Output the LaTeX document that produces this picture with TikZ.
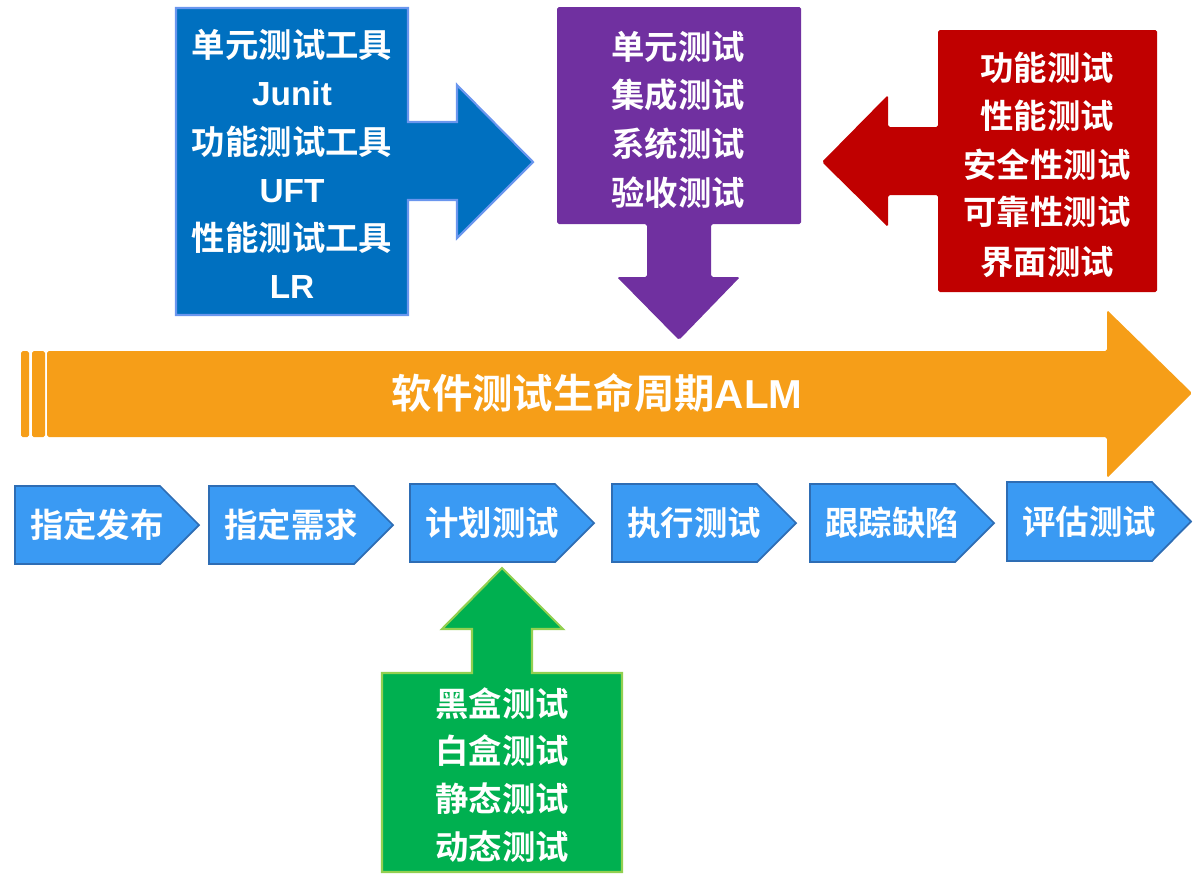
\documentclass[tikz,border=0pt]{standalone}
\usepackage{fontspec}
\setmainfont{Liberation Sans}
\newfontfamily\cjk{Noto Sans CJK SC}[BoldFont={Noto Sans CJK SC Bold}]
\definecolor{orangeA}{HTML}{F69E18}
\definecolor{blueBox}{HTML}{0070C0}
\definecolor{blueEdge}{HTML}{6A96EE}
\definecolor{purpleBox}{HTML}{7030A0}
\definecolor{redBox}{HTML}{C00000}
\definecolor{greenBox}{HTML}{00B050}
\definecolor{greenEdge}{HTML}{92D050}
\definecolor{chevFill}{HTML}{3A9AF3}
\definecolor{chevEdge}{HTML}{2E6DB4}
\tikzset{
  lbl/.style={text=white, inner sep=0pt, anchor=center,
    font=\cjk\bfseries\fontsize{19}{22}\selectfont, text height=16.7pt, text depth=2.3pt},
  lat/.style={lbl, font=\bfseries\fontsize{19}{22}\selectfont},
  ttl/.style={lbl, font=\cjk\bfseries\fontsize{23}{26}\selectfont, text height=20.2pt, text depth=2.8pt},
  chev/.style={fill=chevFill, draw=chevEdge, line width=1pt, line join=miter},
}
\begin{document}
\begin{tikzpicture}[x=0.02cm,y=-0.02cm]
\useasboundingbox (0,0) rectangle (1200,876);

% blue arrow (tools)
\draw[fill=blueBox, draw=blueEdge, line width=1.2pt, line join=miter]
  (176,8) -- (408,8) -- (408,122) -- (457,122) -- (457,85) -- (533,162)
  -- (457,238) -- (457,200) -- (408,200) -- (408,315) -- (176,315) -- cycle;
\node[lbl] (b1) at (292,45) {单元测试工具};
\node[lat] (b2) at (292,93) {Junit};
\node[lbl] (b3) at (292,142) {功能测试工具};
\node[lat] (b4) at (292,190) {UFT};
\node[lbl] (b5) at (292,238) {性能测试工具};
\node[lat] (b6) at (292,286) {LR};

% purple arrow (levels)
\fill[purpleBox, rounded corners=1pt]
  (557,7) -- (801,7) -- (801,224) -- (711,224) -- (711,277) -- (740,277)
  -- (679,340) -- (617,277) -- (647,277) -- (647,224) -- (557,224) -- cycle;
\node[lbl] (p1) at (678,47) {单元测试};
\node[lbl] (p2) at (678,95) {集成测试};
\node[lbl] (p3) at (678,144) {系统测试};
\node[lbl] (p4) at (678,193) {验收测试};

% red arrow (types)
\fill[redBox, rounded corners=1pt]
  (938,30) -- (1157,30) -- (1157,292) -- (938,292) -- (938,195) -- (888,195)
  -- (888,227) -- (822,162) -- (888,95) -- (888,127) -- (938,127) -- cycle;
\node[lbl] (r1) at (1047,68) {功能测试};
\node[lbl] (r2) at (1047,116) {性能测试};
\node[lbl] (r3) at (1047,165) {安全性测试};
\node[lbl] (r4) at (1047,212) {可靠性测试};
\node[lbl] (r5) at (1047,262) {界面测试};

% orange life-cycle arrow
\fill[orangeA, rounded corners=1pt] (21,351) rectangle (29,437);
\fill[orangeA, rounded corners=1pt] (32,351) rectangle (45,437);
\fill[orangeA, rounded corners=1pt]
  (47,351) -- (1107,351) -- (1107,310) -- (1192,393) -- (1107,478)
  -- (1107,437) -- (47,437) -- cycle;
\node[ttl] (alm) at (597,393) {软件测试生命周期{\rmfamily\bfseries ALM}};

% chevrons
\foreach \L/\T/\B/\txt/\nm in {15/486/564/指定发布/c1, 209/486/564/指定需求/c2,
    410/484/562/计划测试/c3, 612/484/562/执行测试/c4, 810/484/562/跟踪缺陷/c5,
    1007/482/561/评估测试/c6}{
  \draw[chev] (\L,\T) -- ({\L+145},\T) -- ({\L+184},{(\T+\B)/2}) -- ({\L+145},\B)
    -- (\L,\B) -- cycle;
  \node[lbl] (\nm) at ({\L+82},{(\T+\B)/2}) {\txt};
}

% green arrow (methods)
\draw[fill=greenBox, draw=greenEdge, line width=1.2pt, line join=miter]
  (382,673) -- (472,673) -- (472,629) -- (442,629) -- (502,568) -- (563,629)
  -- (532,629) -- (532,673) -- (622,673) -- (622,872) -- (382,872) -- cycle;
\node[lbl] (g1) at (502,704) {黑盒测试};
\node[lbl] (g2) at (502,751) {白盒测试};
\node[lbl] (g3) at (502,799) {静态测试};
\node[lbl] (g4) at (502,847) {动态测试};
\end{tikzpicture}
\end{document}
